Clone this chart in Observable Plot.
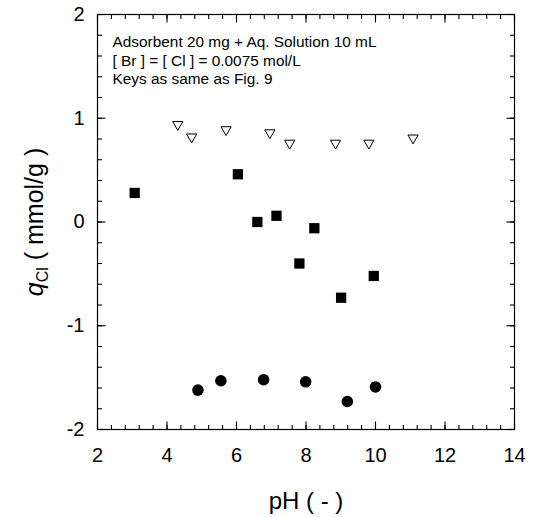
<!DOCTYPE html>
<html>
<head>
<meta charset="utf-8">
<script src="https://cdn.jsdelivr.net/npm/d3@7"></script>
<script src="https://cdn.jsdelivr.net/npm/@observablehq/plot@0.6"></script>
<style>
  html, body { margin: 0; padding: 0; background: #fff; }
</style>
</head>
<body>
<div id="chart"></div>
<script>
// Open down-triangles
const pHTri = [4.31, 4.71, 5.70, 6.96, 7.53, 8.85, 9.81, 11.08];
const qTri  = [0.94, 0.82, 0.89, 0.86, 0.76, 0.76, 0.76, 0.81];
// Filled squares
const pHSq = [3.07, 6.04, 6.60, 7.15, 7.81, 8.24, 9.01, 9.95];
const qSq  = [0.28, 0.46, 0.00, 0.06, -0.40, -0.06, -0.73, -0.52];
// Filled circles
const pHCi = [4.89, 5.55, 6.78, 7.99, 9.19, 10.00];
const qCi  = [-1.62, -1.53, -1.52, -1.54, -1.73, -1.59];

const xTicks = [2, 4, 6, 8, 10, 12, 14];
const yTicks = [-2, -1, 0, 1, 2];
const xMinor = d3.range(0, 31).map(i => 2 + i * 0.4);
const yMinor = d3.range(0, 21).map(i => -2 + i * 0.2);

const annotation = "Adsorbent 20 mg + Aq. Solution 10 mL\n[ Br ] = [ Cl ] = 0.0075 mol/L\nKeys as same as Fig. 9";
const xLabel = "pH ( - )";
const yLabelMain = "q";
const yLabelSub = "Cl";
const yLabelRest = " ( mmol/g )";

const tri = pHTri.map((x, i) => ({x, y: qTri[i]}));
const sq = pHSq.map((x, i) => ({x, y: qSq[i]}));
const ci = pHCi.map((x, i) => ({x, y: qCi[i]}));

const xDomain = [2, 14], yDomain = [-2, 2];
const W = 535, H = 517;
const mL = 97, mR = 21, mT = 14, mB = 88;
const iW = W - mL - mR, iH = H - mT - mB;
const font = "Liberation Sans";
const major = 8, minor = 4.5;
const ky = (yDomain[1] - yDomain[0]) / iH;
const kx = (xDomain[1] - xDomain[0]) / iW;

function xTickLinks(vals, len) {
  const bottom = vals.map(v => ({x1: v, x2: v, y1: yDomain[0], y2: yDomain[0] + len * ky}));
  const top = vals.map(v => ({x1: v, x2: v, y1: yDomain[1], y2: yDomain[1] - len * ky}));
  return Plot.link(bottom.concat(top), {x1: "x1", x2: "x2", y1: "y1", y2: "y2", stroke: "#000", strokeWidth: 1.1});
}
function yTickLinks(vals, len) {
  const left = vals.map(v => ({y1: v, y2: v, x1: xDomain[0], x2: xDomain[0] + len * kx}));
  const right = vals.map(v => ({y1: v, y2: v, x1: xDomain[1], x2: xDomain[1] - len * kx}));
  return Plot.link(left.concat(right), {x1: "x1", x2: "x2", y1: "y1", y2: "y2", stroke: "#000", strokeWidth: 1.1});
}

// y-label pieces laid along the rotated baseline (approximate advance widths)
const yLabFs = 25, ySubFs = 16;
const qW = 0.556 * yLabFs, subW = 0.944 * ySubFs, restW = 4.778 * yLabFs;
const totalW = qW + subW + restW;
const startDy = totalW / 2;

const svg = Plot.plot({
  width: W, height: H,
  marginLeft: mL, marginRight: mR, marginTop: mT, marginBottom: mB,
  x: {domain: xDomain, axis: null},
  y: {domain: yDomain, axis: null},
  style: {background: "#fff", color: "#000"},
  marks: [
    xTickLinks(xMinor, minor),
    xTickLinks(xTicks, major),
    yTickLinks(yMinor, minor),
    yTickLinks(yTicks, major),
    Plot.frame({stroke: "#000", strokeWidth: 1.2}),
    // tick labels
    Plot.text(xTicks, {x: d => d, frameAnchor: "bottom", dy: 26, text: d => String(d), fontSize: 20, fontFamily: font, lineAnchor: "middle", fill: "#000"}),
    Plot.text(yTicks, {y: d => d, frameAnchor: "left", dx: -13, text: d => String(d), fontSize: 20, fontFamily: font, textAnchor: "end", lineAnchor: "middle", fill: "#000"}),
    // axis titles
    Plot.text([xLabel], {frameAnchor: "bottom", dy: 79, lineAnchor: "bottom", fontSize: 24, fontFamily: font, fill: "#000"}),
    Plot.text([yLabelMain], {frameAnchor: "left", dx: -55, dy: startDy, rotate: -90, textAnchor: "start", lineAnchor: "bottom", fontSize: yLabFs, fontStyle: "italic", fontFamily: font, fill: "#000"}),
    Plot.text([yLabelSub], {frameAnchor: "left", dx: -50, dy: startDy - qW, rotate: -90, textAnchor: "start", lineAnchor: "bottom", fontSize: ySubFs, fontFamily: font, fill: "#000"}),
    Plot.text([yLabelRest], {frameAnchor: "left", dx: -55, dy: startDy - qW - subW, rotate: -90, textAnchor: "start", lineAnchor: "bottom", fontSize: yLabFs, fontFamily: font, fill: "#000"}),
    // annotation
    Plot.text([annotation], {frameAnchor: "top-left", dx: 15, dy: 19.5, lineAnchor: "top", textAnchor: "start", fontSize: 15.4, fontFamily: font, lineHeight: 1.21, fill: "#000"}),
    // data
    Plot.dot(tri, {x: "x", y: "y", symbol: "triangle", rotate: 180, r: 3.8, stroke: "#000", fill: "#fff", strokeWidth: 1}),
    Plot.dot(sq, {x: "x", y: "y", symbol: "square", r: 5.8, fill: "#000", stroke: "none"}),
    Plot.dot(ci, {x: "x", y: "y", symbol: "circle", r: 5.8, fill: "#000", stroke: "none"})
  ]
});

document.getElementById("chart").appendChild(svg);
</script>
</body>
</html>
